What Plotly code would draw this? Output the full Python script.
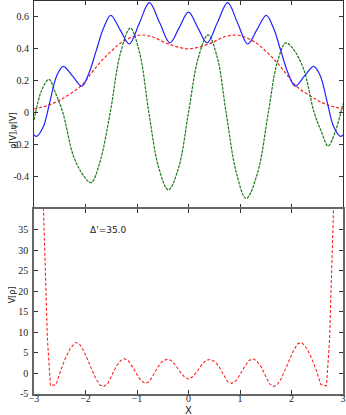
import plotly.graph_objects as go
from plotly.subplots import make_subplots

# top panel: density (blue), wavefunction (green), smooth red curve
rho_x = [-3.0, -2.95, -2.82, -2.69, -2.56, -2.43, -2.25, -2.07, -1.93, -1.79, -1.65, -1.51, -1.33,
         -1.15, -0.955, -0.76, -0.56, -0.36, -0.18, 0.0, 0.18, 0.36, 0.56, 0.76, 0.955, 1.15,
         1.33, 1.51, 1.65, 1.79, 1.93, 2.07, 2.25, 2.43, 2.56, 2.69, 2.82, 2.95, 3.0]
rho_y = [-0.14, -0.15, -0.09, 0.07, 0.23, 0.29, 0.228, 0.166, 0.25, 0.39, 0.53, 0.61, 0.52,
         0.43, 0.56, 0.69, 0.563, 0.437, 0.533, 0.63, 0.533, 0.437, 0.563, 0.69, 0.56, 0.43,
         0.52, 0.61, 0.53, 0.39, 0.25, 0.166, 0.228, 0.29, 0.23, 0.07, -0.09, -0.15, -0.14]

psi_x = [-3.0, -2.85, -2.71, -2.58, -2.44, -2.23, -2.03, -1.89, -1.72, -1.52, -1.32, -1.13, -0.95,
         -0.77, -0.58, -0.39, -0.19, 0.0, 0.19, 0.38, 0.56, 0.73, 0.93, 1.12, 1.34, 1.55, 1.72,
         1.89, 2.03, 2.23, 2.44, 2.58, 2.71, 2.85, 3.0]
psi_y = [-0.048, 0.14, 0.208, 0.12, 0.0, -0.277, -0.40, -0.44, -0.31, 0.0, 0.375, 0.53, 0.375,
         0.0, -0.344, -0.486, -0.344, 0.0, 0.344, 0.487, 0.344, 0.0, -0.38, -0.54, -0.38, 0.0, 0.31,
         0.437, 0.40, 0.277, 0.0, -0.12, -0.21, -0.12, 0.056]

red_x = [-3.0, -2.72, -2.47, -2.08, -1.87, -1.7, -1.5, -1.3, -0.97, -0.72, -0.39, 0.0,
         0.39, 0.72, 0.97, 1.3, 1.5, 1.7, 1.87, 2.08, 2.47, 2.72, 3.0]
red_y = [0.022, 0.046, 0.083, 0.17, 0.254, 0.32, 0.385, 0.44, 0.485, 0.477, 0.43, 0.40,
         0.43, 0.477, 0.485, 0.44, 0.385, 0.32, 0.254, 0.17, 0.083, 0.046, 0.022]

# bottom panel: V[rho]
v_x = [-2.84, -2.74, -2.68, -2.57, -2.48, -2.39, -2.30, -2.20, -2.12, -2.04, -1.96, -1.88, -1.80,
       -1.72, -1.65, -1.57, -1.48, -1.40, -1.32, -1.25, -1.17, -1.08, -1.00, -0.92, -0.84, -0.76,
       -0.68, -0.60, -0.52, -0.43, -0.34, -0.25, -0.17, -0.08, 0.0,
       0.08, 0.17, 0.25, 0.34, 0.43, 0.52, 0.60, 0.68, 0.76, 0.84, 0.92, 1.00, 1.08, 1.17, 1.25,
       1.32, 1.40, 1.48, 1.57, 1.65, 1.72, 1.80, 1.88, 1.96, 2.04, 2.12, 2.20, 2.30, 2.39, 2.48,
       2.57, 2.68, 2.74, 2.84]
v_y = [50, 8.5, -3.0, -2.7, 0.8, 3.7, 6.0, 7.5, 7.2, 5.6, 3.4, 0.9, -1.3,
       -2.8, -3.2, -2.5, -0.2, 1.8, 3.1, 3.6, 3.1, 1.5, -0.3, -1.8, -2.4, -2.0,
       -0.3, 1.5, 2.8, 3.4, 3.2, 2.0, 0.5, -0.8, -1.4,
       -0.8, 0.5, 2.0, 3.2, 3.4, 2.8, 1.5, -0.3, -2.0, -2.4, -1.8, -0.3, 1.5, 3.1, 3.6,
       3.1, 1.8, -0.2, -2.5, -3.2, -2.8, -1.3, 0.9, 3.4, 5.6, 7.2, 7.5, 6.0, 3.7, 0.8,
       -2.7, -3.0, 8.5, 50]

x_ticks = [-3, -2, -1, 0, 1, 2, 3]
top_ticks = [-0.4, -0.2, 0, 0.2, 0.4, 0.6]
top_labels = ['-0.4', '-0.2', '0', '0.2', '0.4', '0.6']
bot_ticks = [-5, 0, 5, 10, 15, 20, 25, 30, 35]
bot_labels = ['-5', '0', '5', '10', '15', '20', '25', '30', '35']

fig = make_subplots(rows=2, cols=1, shared_xaxes=False, vertical_spacing=0.0)

fig.add_trace(go.Scatter(x=red_x, y=red_y, mode='lines', line_shape='spline',
                         line=dict(color='#ff2020', width=1.2, dash='3px,2px')), row=1, col=1)
fig.add_trace(go.Scatter(x=psi_x, y=psi_y, mode='lines', line_shape='spline',
                         line=dict(color='#1a7a1a', width=1.2, dash='3px,1px')), row=1, col=1)
fig.add_trace(go.Scatter(x=rho_x, y=rho_y, mode='lines', line_shape='spline',
                         line=dict(color='#2222ff', width=1.2)), row=1, col=1)
fig.add_trace(go.Scatter(x=v_x, y=v_y, mode='lines',
                         line=dict(color='#ff2020', width=1.1, dash='3px,2px')), row=2, col=1)

tickfont = dict(family='Liberation Serif, DejaVu Serif, serif', size=10, color='#222')
axis_style = dict(showline=True, mirror='ticks', ticks='inside', ticklen=4, linecolor='#333',
                  linewidth=1, tickcolor='#333', showgrid=False, zeroline=False, tickfont=tickfont)

fig.update_xaxes(range=[-3, 3], tickvals=x_ticks, **axis_style)
fig.update_xaxes(showticklabels=False, row=1, col=1)
fig.update_xaxes(ticklabelstandoff=-6, row=2, col=1)
fig.update_yaxes(ticklabelstandoff=2, **axis_style)
fig.update_yaxes(range=[-0.6, 0.7], tickvals=top_ticks, ticktext=top_labels, row=1, col=1)
fig.update_yaxes(range=[-5, 40], tickvals=bot_ticks, ticktext=bot_labels, row=2, col=1)
fig.update_yaxes(linecolor='#666', linewidth=1.5, row=2, col=1)
fig.update_xaxes(linecolor='#666', linewidth=1.5, row=2, col=1)

fig.update_layout(
    width=346, height=415,
    margin=dict(l=34, r=3, t=1, b=21),
    plot_bgcolor='white', paper_bgcolor='white',
    showlegend=False,
    yaxis_domain=[0.473, 1.0],
    yaxis2_domain=[0.0, 0.471],
    annotations=[
        dict(text='ρ[V],ψ[V]', xref='paper', yref='paper', x=-0.09, y=0.72, textangle=-90,
             showarrow=False, font=dict(family='DejaVu Sans', size=8, color='#222')),
        dict(text='V[ρ]', xref='paper', yref='paper', x=-0.09, y=0.226, textangle=-90,
             showarrow=False, font=dict(family='DejaVu Sans', size=8, color='#222')),
        dict(text='X', xref='paper', yref='paper', x=0.5, y=-0.043, yanchor='middle',
             showarrow=False, font=dict(family='DejaVu Sans', size=10, color='#222')),
        dict(text="Δ'=35.0", xref='x2', yref='y2', x=-1.56, y=34.8,
             showarrow=False, font=dict(family='DejaVu Sans', size=9, color='#222')),
    ],
)

fig.write_html("out.html", config={'displayModeBar': False},
               post_script="document.body.style.margin='0';")
